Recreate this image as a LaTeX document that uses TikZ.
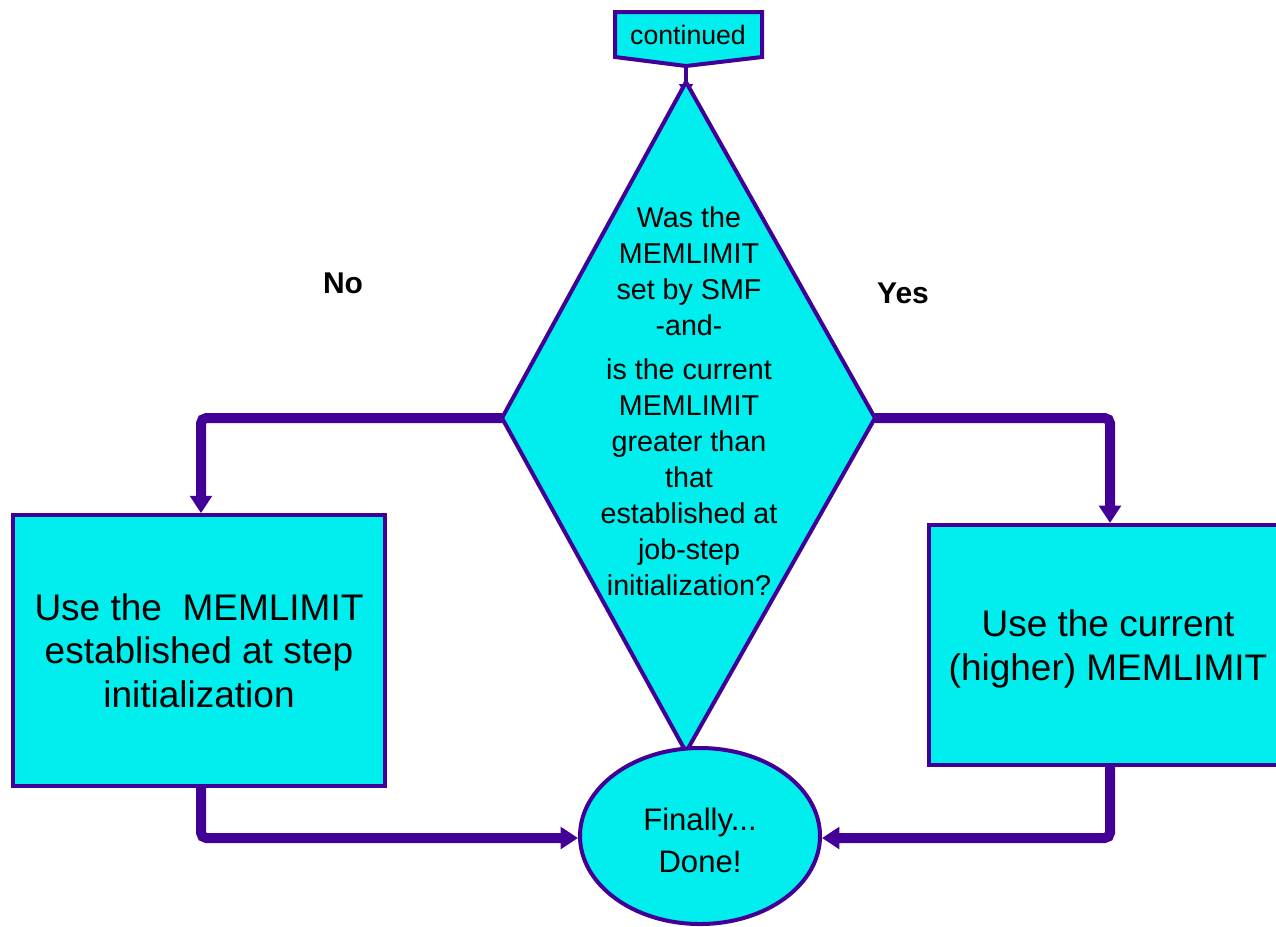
\documentclass[tikz,border=0pt]{standalone}
\usepackage{fontspec}
\setmainfont{Liberation Sans}
\usetikzlibrary{arrows.meta,shapes.geometric}
\definecolor{fillc}{RGB}{0,238,238}
\definecolor{edgec}{RGB}{66,0,150}
\tikzset{
  shapeline/.style={draw=edgec,line width=3pt,fill=fillc},
  boxnode/.style={shapeline,rectangle,inner sep=0pt,align=center,font=\fontsize{27.75}{32.6}\selectfont},
  boxtext/.style={align=center,font=\fontsize{27.75}{32.6}\selectfont},
  conn/.style={draw=edgec,line width=7.5pt,rounded corners=4pt,-{Triangle[length=13pt,width=16pt]}},
  lbl/.style={font=\fontsize{22.5}{27}\selectfont\bfseries},
}
\begin{document}
\begin{tikzpicture}[x=0.75pt,y=-0.75pt]
\useasboundingbox (0,0) rectangle (1276,926);
\clip (0,0) rectangle (1276,926);
% continued pentagon
\draw[shapeline,line join=miter] (615,12) -- (762,12) -- (762,57) -- (686,66) -- (615,57) -- cycle;
\node[font=\fontsize{20}{24}\selectfont] (cont) at (688,35) {continued};
\coordinate (contb) at (686,64);
% diamond
\coordinate (dT) at (686,82);
\coordinate (dR) at (875,418);
\coordinate (dB) at (686,752);
\coordinate (dL) at (502,418);
\draw[draw=edgec,line width=3.5pt,-{Triangle[length=9pt,width=10pt]}] (contb) -- (686,96);
\draw[shapeline] (dT) -- (dR) -- (dB) -- (dL) -- cycle;
\node[align=center,font=\fontsize{21.5}{27}\selectfont] (q) at (689,401)
  {Was the\\MEMLIMIT\\set by SMF\\-and-\\[6pt]is the current\\MEMLIMIT\\greater than\\that\\established at\\job-step\\initialization?};
% boxes
\node[boxnode,minimum width=279pt,minimum height=203pt] (lbox) at (199,650.5)
  {Use the\ \ MEMLIMIT\\established at step\\initialization};
\node[boxnode,minimum width=268.5pt,minimum height=180pt] (rbox) at (1108,645) {};
\node[boxtext] (rtext) at (1108,649) {Use the current\\(higher) MEMLIMIT};
% ellipse
\node[shapeline,ellipse,inner sep=0pt,minimum width=180pt,minimum height=132pt] (done) at (700,836) {};
\node[align=center,font=\fontsize{23.3}{31.5}\selectfont] (donetext) at (700,840) {Finally...\\Done!};
% labels
\node[lbl] (no) at (343,283) {No};
\node[lbl] (yes) at (903,293) {Yes};
% connectors
\draw[conn] (dL) -| ([xshift=1.5pt]lbox.north);
\draw[conn] (dR) -| ([xshift=1.5pt]rbox.north);
\draw[conn] ([xshift=1.5pt]lbox.south) |- ([yshift=-1.5pt]done.west);
\draw[conn] ([xshift=1.5pt]rbox.south) |- ([yshift=-1.5pt]done.east);
\end{tikzpicture}
\end{document}
